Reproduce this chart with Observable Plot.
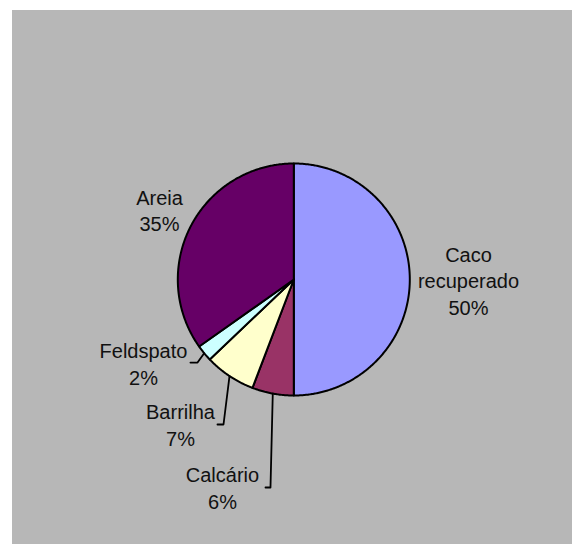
<!DOCTYPE html>
<html>
<head>
<meta charset="utf-8">
<script src="https://cdn.jsdelivr.net/npm/d3@7"></script>
<script src="https://cdn.jsdelivr.net/npm/@observablehq/plot@0.6"></script>
<style>
  html, body { margin: 0; padding: 0; background: #ffffff; }
  #wrap { position: absolute; left: 12px; top: 10px; width: 560px; height: 534px; background: #b7b7b7; }
  #wrap svg { display: block; background: transparent; }
</style>
</head>
<body>
<div id="wrap"></div>
<script>
// Data
const categories = ["Caco recuperado", "Calcário", "Barrilha", "Feldspato", "Areia"];
const values = [50.0, 5.8, 7.1, 2.3, 34.8];
const colors = ["#9999ff", "#993366", "#ffffcc", "#ccffff", "#660066"];

// Layout (label placement in pie-radius units, relative to pie centre)
const labelPos = {
  "Caco recuperado": {x: 1.506, y: -0.004, text: "Caco\nrecuperado"},
  "Calcário": {x: -0.615, y: -1.79, text: "Calcário"},
  "Barrilha": {x: -0.977, y: -1.247, text: "Barrilha"},
  "Feldspato": {x: -1.296, y: -0.72, text: "Feldspato"},
  "Areia": {x: -1.158, y: 0.602, text: "Areia"}
};
const leaders = {
  "Feldspato": [[-0.891, -0.716], [-0.830, -0.716]],
  "Barrilha": [[-0.658, -1.25], [-0.606, -1.25]],
  "Calcário": [[-0.244, -1.793], [-0.201, -1.793]]
};

const total = d3.sum(values);
const arcs = d3.pie().sort(null).value(d => d)(values);

const slicePts = [];
arcs.forEach((a, i) => {
  const name = categories[i];
  slicePts.push({name, x: 0, y: 0});
  const n = Math.max(2, Math.ceil((a.endAngle - a.startAngle) / (Math.PI / 360)));
  for (let k = 0; k <= n; k++) {
    const t = a.startAngle + (a.endAngle - a.startAngle) * k / n;
    slicePts.push({name, x: Math.sin(t), y: Math.cos(t)});
  }
  slicePts.push({name, x: 0, y: 0});
});

const labels = categories.map((c, i) => ({
  name: c,
  x: labelPos[c].x,
  y: labelPos[c].y,
  text: labelPos[c].text + "\n" + Math.round(values[i] / total * 100) + "%"
}));

const leaderPts = [];
Object.keys(leaders).forEach(name => {
  const a = arcs[categories.indexOf(name)];
  const mid = (a.startAngle + a.endAngle) / 2;
  leaders[name].forEach(([x, y]) => leaderPts.push({name, x, y}));
  leaderPts.push({name, x: Math.sin(mid), y: Math.cos(mid)});
});

const cx = 281.3, cy = 269, r = 116;

const chart = Plot.plot({
  width: 560,
  height: 534,
  margin: 0,
  style: {background: "transparent", fontFamily: "'Liberation Sans', Arial, sans-serif"},
  x: {domain: [-1, 1], range: [cx - r, cx + r], axis: null},
  y: {domain: [-1, 1], range: [cy + r, cy - r], axis: null},
  color: {domain: categories, range: colors},
  marks: [
    Plot.line(slicePts, {x: "x", y: "y", z: "name", fill: "name", stroke: "#000", strokeWidth: 2, strokeLinejoin: "round", curve: "linear"}),
    Plot.line(leaderPts, {x: "x", y: "y", z: "name", stroke: "#000", strokeWidth: 1.8}),
    Plot.text(labels, {x: "x", y: "y", text: "text", fontSize: 20, lineHeight: 1.33, fill: "#111", textAnchor: "middle"})
  ]
});
document.getElementById("wrap").appendChild(chart);
</script>
</body>
</html>
